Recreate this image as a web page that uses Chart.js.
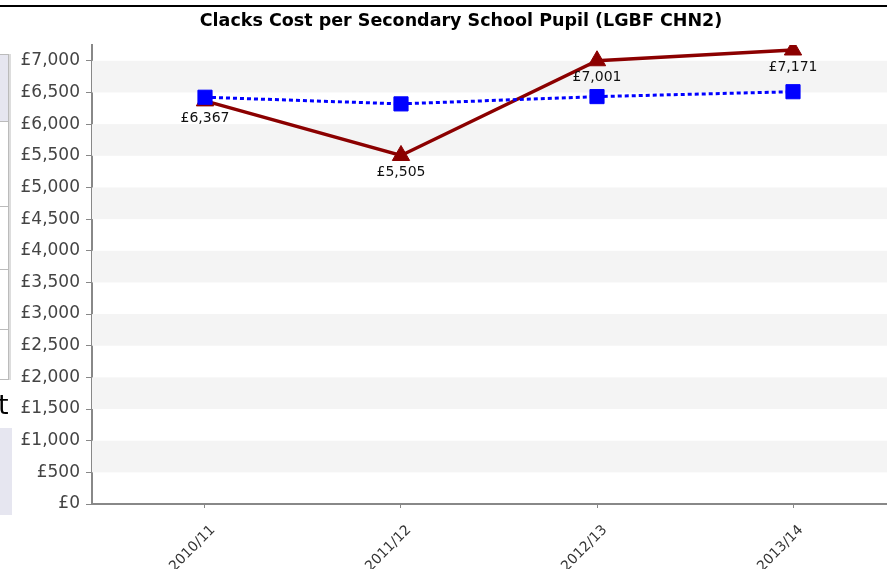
<!DOCTYPE html>
<html>
<head>
<meta charset="utf-8">
<script src="https://cdn.jsdelivr.net/npm/chart.js@4"></script>
<style>
  html, body { margin: 0; padding: 0; background: #fff; }
  #wrap { position: relative; width: 887px; height: 569px; overflow: hidden; }
  #chart { position: absolute; left: 0; top: 0; }
  .topline { position: absolute; left: 0; top: 5px; width: 887px; height: 2px; background: #000; }
  .box1 { position: absolute; left: -4px; top: 54px; width: 12px; height: 324px; border: 1px solid #bbb; border-left: none; background: #fff; box-shadow: 2px 0 0 #ddd; }
  .box1 .cell { border-bottom: 1px solid #bbb; }
  .letter { position: absolute; left: -2px; top: 389px; font: 27px "DejaVu Sans", sans-serif; color: #000; }
  .box2 { position: absolute; left: 0; top: 428px; width: 12px; height: 87px; background: #e6e6f0; }
</style>
</head>
<body>
<div id="wrap">
  <canvas id="chart" width="922" height="569"></canvas>
  <div class="topline"></div>
  <div class="box1">
    <div class="cell" style="height:66px;background:#e6e6f0"></div>
    <div class="cell" style="height:84px"></div>
    <div class="cell" style="height:62px"></div>
    <div class="cell" style="height:59px"></div>
  </div>
  <div class="letter">t</div>
  <div class="box2"></div>
</div>
<script>
const anos = ['2010/11', '2011/12', '2012/13', '2013/14'];
const custoClacks = [6367, 5505, 7001, 7171];
const custoEscocia = [6425, 6320, 6435, 6512];
const ticksY = [0, 500, 1000, 1500, 2000, 2500, 3000, 3500, 4000, 4500, 5000, 5500, 6000, 6500, 7000];
const ticksX = [0, 1, 2, 3];

function libra(v) {
    return '£' + v.toLocaleString('en-GB');
}

// faixas cinzentas alternadas no fundo
const faixas = {
    id: 'faixas',
    beforeDatasetsDraw(chart) {
        const ctx = chart.ctx;
        const area = chart.chartArea;
        const y = chart.scales.y;
        ctx.save();
        ctx.fillStyle = '#f4f4f4';
        for (let v = 500; v < 7000; v += 1000) {
            const y1 = y.getPixelForValue(v + 500);
            const y2 = y.getPixelForValue(v);
            ctx.fillRect(area.left, y1, area.right - area.left, y2 - y1);
        }
        ctx.restore();
    }
};

// rótulos de valor por baixo da linha vermelha
const rotulos = {
    id: 'rotulos',
    afterDatasetsDraw(chart) {
        const ctx = chart.ctx;
        const meta = chart.getDatasetMeta(1);
        ctx.save();
        ctx.font = '14px "DejaVu Sans"';
        ctx.fillStyle = '#111';
        ctx.textAlign = 'center';
        ctx.textBaseline = 'middle';
        meta.data.forEach((p, i) => {
            ctx.fillText(libra(custoClacks[i]), p.x, p.y + 17);
        });
        ctx.restore();
    }
};

new Chart(document.getElementById('chart').getContext('2d'), {
    type: 'line',
    data: {
        datasets: [{
            label: 'Scotland',
            data: custoEscocia.map((v, i) => ({ x: i, y: v })),
            borderColor: '#0000ff',
            backgroundColor: '#0000ff',
            borderWidth: 3,
            borderDash: [4, 3],
            pointStyle: 'rect',
            pointRadius: 10,
            pointBorderWidth: 1,
            order: 0
        }, {
            label: 'Clacks',
            data: custoClacks.map((v, i) => ({ x: i, y: v })),
            borderColor: '#8b0000',
            backgroundColor: '#8b0000',
            borderWidth: 3.5,
            pointStyle: 'triangle',
            pointRadius: 10,
            pointBorderWidth: 1,
            order: 1
        }]
    },
    options: {
        responsive: false,
        animation: false,
        layout: { padding: 0 },
        plugins: {
            legend: { display: false },
            tooltip: { enabled: false },
            title: {
                display: true,
                text: 'Clacks Cost per Secondary School Pupil (LGBF CHN2)',
                color: '#000',
                font: { family: 'DejaVu Sans', size: 17.5, weight: 'bold', lineHeight: 1.2 },
                padding: { top: 11, bottom: 13 }
            }
        },
        scales: {
            x: {
                type: 'linear',
                min: -0.5765,
                max: 3.602,
                afterBuildTicks(scale) {
                    scale.ticks = ticksX.map(v => ({ value: v }));
                },
                afterFit(scale) {
                    scale.height = 65;
                },
                ticks: {
                    callback: v => anos[v],
                    minRotation: 45,
                    maxRotation: 45,
                    autoSkip: false,
                    color: '#333',
                    padding: 14,
                    labelOffset: 8,
                    font: { family: 'DejaVu Sans', size: 14 }
                },
                grid: { drawOnChartArea: false, color: '#888', tickLength: 4 },
                border: { color: '#888', width: 2 }
            },
            y: {
                min: 0,
                max: 7250,
                afterBuildTicks(scale) {
                    scale.ticks = ticksY.map(v => ({ value: v }));
                },
                afterFit(scale) {
                    scale.width = 92;
                },
                ticks: {
                    callback: v => libra(v),
                    color: '#444',
                    padding: 6,
                    font: { family: 'DejaVu Sans', size: 17 }
                },
                grid: { drawOnChartArea: false, color: '#888', tickLength: 6 },
                border: { color: '#888', width: 2 }
            }
        }
    },
    plugins: [faixas, rotulos]
});
</script>
</body>
</html>
